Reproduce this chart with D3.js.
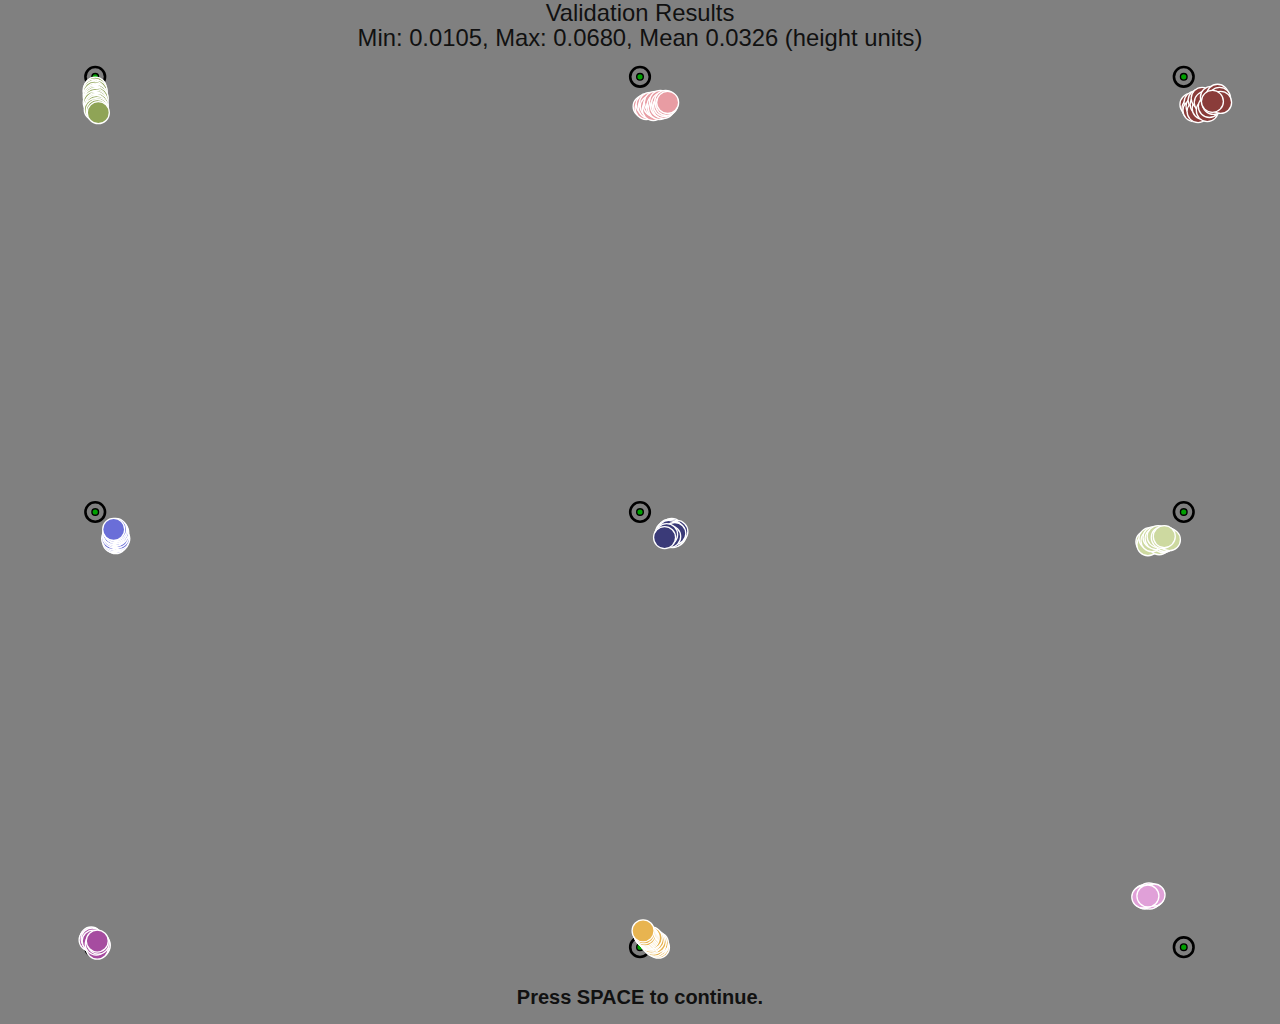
<!DOCTYPE html>
<html>
<head>
<meta charset="utf-8">
<script src="https://cdn.jsdelivr.net/npm/d3@7"></script>
<style>
  html, body { margin: 0; padding: 0; background: #808080; }
  svg { display: block; }
</style>
</head>
<body>
<svg id="chart" width="1280" height="1024"></svg>
<script>
// Screen in PsychoPy "height" units: width 1.25, height 1.0, origin at centre
const titleLines = ["Validation Results", "Min: 0.0105, Max: 0.0680, Mean 0.0326 (height units)"];
const footerText = "Press SPACE to continue.";

const targetX = [-0.532, 0.000, 0.531, -0.532, 0.000, 0.531, -0.532, 0.000, 0.531];
const targetY = [0.425, 0.425, 0.425, 0.000, 0.000, 0.000, -0.425, -0.425, -0.425];

const sampleColors = ["#8fa456", "#e89ca3", "#8a3c3a", "#6a6ed8", "#3a3a78", "#cdd9a0", "#a64ca0", "#e8b450", "#e0a0d8"];

// gaze samples per target (last one drawn on top)
const samplesX = [
  [-0.532, -0.533, -0.531, -0.533, -0.532, -0.531, -0.533, -0.532, -0.530, -0.532, -0.531, -0.533, -0.531, -0.530, -0.532, -0.531, -0.530, -0.532, -0.530, -0.529],
  [0.004, 0.006, 0.007, 0.009, 0.010, 0.011, 0.013, 0.014, 0.015, 0.017, 0.018, 0.019, 0.020, 0.021, 0.022, 0.023, 0.024, 0.025, 0.026, 0.027],
  [0.538, 0.540, 0.542, 0.541, 0.544, 0.546, 0.545, 0.548, 0.550, 0.549, 0.552, 0.554, 0.556, 0.558, 0.560, 0.562, 0.564, 0.566, 0.567, 0.559],
  [-0.512, -0.514, -0.510, -0.513, -0.511, -0.515, -0.509, -0.512, -0.514, -0.510, -0.513, -0.511, -0.512, -0.514, -0.510, -0.512, -0.513, -0.511, -0.512, -0.514],
  [0.030, 0.033, 0.028, 0.035, 0.031, 0.026, 0.034, 0.029, 0.036, 0.032, 0.027, 0.030, 0.033, 0.025, 0.031, 0.028, 0.034, 0.029, 0.026, 0.024],
  [0.495, 0.497, 0.499, 0.501, 0.496, 0.503, 0.505, 0.498, 0.507, 0.500, 0.509, 0.502, 0.511, 0.504, 0.513, 0.515, 0.506, 0.517, 0.510, 0.512],
  [-0.536, -0.534, -0.531, -0.529, -0.537, -0.533, -0.530, -0.528, -0.535, -0.532, -0.530, -0.534, -0.531, -0.529, -0.530],
  [0.018, 0.017, 0.016, 0.015, 0.017, 0.014, 0.013, 0.015, 0.012, 0.011, 0.013, 0.010, 0.009, 0.011, 0.008, 0.007, 0.006, 0.005, 0.004, 0.003],
  [0.492, 0.495, 0.499, 0.501, 0.493, 0.497, 0.500, 0.494, 0.498, 0.496, 0.491, 0.502, 0.496]
];
const samplesY = [
  [0.414, 0.412, 0.411, 0.410, 0.408, 0.407, 0.406, 0.405, 0.404, 0.403, 0.401, 0.400, 0.399, 0.398, 0.397, 0.396, 0.394, 0.393, 0.392, 0.390],
  [0.396, 0.394, 0.398, 0.395, 0.399, 0.396, 0.393, 0.397, 0.400, 0.395, 0.398, 0.394, 0.401, 0.396, 0.399, 0.395, 0.397, 0.401, 0.398, 0.400],
  [0.398, 0.394, 0.400, 0.392, 0.396, 0.402, 0.391, 0.398, 0.394, 0.404, 0.400, 0.392, 0.396, 0.405, 0.399, 0.403, 0.407, 0.404, 0.400, 0.401],
  [-0.030, -0.029, -0.028, -0.028, -0.027, -0.026, -0.026, -0.025, -0.024, -0.024, -0.023, -0.022, -0.022, -0.021, -0.020, -0.020, -0.019, -0.018, -0.017, -0.017],
  [-0.019, -0.020, -0.018, -0.021, -0.017, -0.020, -0.023, -0.022, -0.019, -0.024, -0.021, -0.018, -0.020, -0.023, -0.022, -0.019, -0.021, -0.024, -0.022, -0.025],
  [-0.029, -0.031, -0.028, -0.030, -0.032, -0.027, -0.029, -0.026, -0.031, -0.028, -0.027, -0.025, -0.029, -0.026, -0.028, -0.026, -0.024, -0.027, -0.025, -0.024],
  [-0.416, -0.419, -0.422, -0.425, -0.418, -0.421, -0.424, -0.423, -0.417, -0.420, -0.426, -0.419, -0.422, -0.421, -0.419],
  [-0.425, -0.423, -0.424, -0.422, -0.421, -0.423, -0.421, -0.420, -0.419, -0.420, -0.418, -0.418, -0.417, -0.416, -0.416, -0.415, -0.414, -0.413, -0.411, -0.409],
  [-0.375, -0.374, -0.376, -0.375, -0.377, -0.373, -0.374, -0.376, -0.377, -0.375, -0.376, -0.374, -0.375]
];

const W = 1280, H = 1024;
const svg = d3.select("#chart");
const x = d3.scaleLinear().domain([-0.625, 0.625]).range([0, W]);
const y = d3.scaleLinear().domain([-0.5, 0.5]).range([H, 0]);

svg.append("rect").attr("width", W).attr("height", H).attr("fill", "#808080");

// targets
const tg = svg.append("g").attr("class", "targets");
targetX.forEach((tx, i) => {
  const g = tg.append("g");
  g.append("circle").attr("cx", x(tx)).attr("cy", y(targetY[i])).attr("r", 9.8)
    .attr("fill", "none").attr("stroke", "#000").attr("stroke-width", 2.6);
  g.append("circle").attr("cx", x(tx)).attr("cy", y(targetY[i])).attr("r", 3.3)
    .attr("fill", "#00a000").attr("stroke", "#000").attr("stroke-width", 1.4);
});

// samples
const sg = svg.append("g").attr("class", "samples");
samplesX.forEach((xs, i) => {
  const pts = xs.map((v, j) => ({x: v, y: samplesY[i][j]}));
  sg.append("g").selectAll("circle").data(pts).join("circle")
    .attr("cx", d => x(d.x)).attr("cy", d => y(d.y)).attr("r", 11)
    .attr("fill", sampleColors[i])
    .attr("stroke", "#ffffff").attr("stroke-width", 1.3);
});

// title
const font = "'Liberation Sans', Arial, Helvetica, sans-serif";
svg.append("g").selectAll("text").data(titleLines).join("text")
  .attr("x", W / 2).attr("y", (d, i) => 21 + i * 25)
  .attr("text-anchor", "middle").attr("font-family", font)
  .attr("font-size", 23.8).attr("fill", "#111").text(d => d);

svg.append("text").attr("x", W / 2).attr("y", 1004)
  .attr("text-anchor", "middle").attr("font-family", font)
  .attr("font-size", 20).attr("font-weight", "bold").attr("fill", "#111")
  .text(footerText);
</script>
</body>
</html>
